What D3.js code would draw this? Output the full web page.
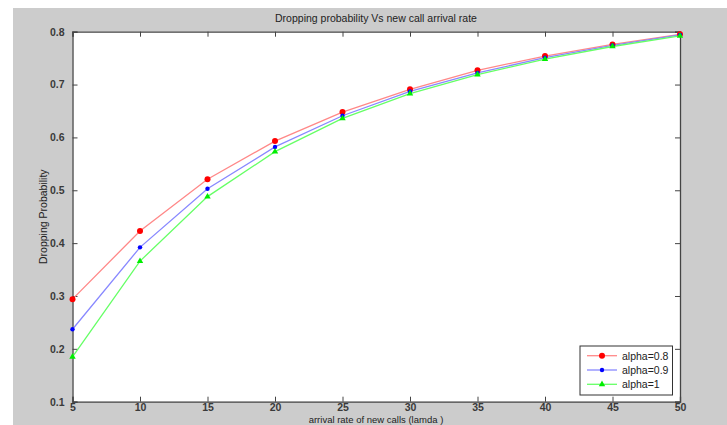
<!DOCTYPE html>
<html><head><meta charset="utf-8">
<script src="https://cdn.jsdelivr.net/npm/d3@7"></script>
<style>
html,body{margin:0;padding:0;background:#fff;}
svg{display:block;font-family:"Liberation Sans",Arial,sans-serif;}
</style></head>
<body><svg id="c" width="727" height="425"></svg>
<script>
const xValues = [5, 10, 15, 20, 25, 30, 35, 40, 45, 50];
const alpha08 = [0.294, 0.423, 0.521, 0.593, 0.648, 0.691, 0.727, 0.754, 0.776, 0.795];
const alpha09 = [0.237, 0.392, 0.503, 0.582, 0.641, 0.687, 0.722, 0.751, 0.774, 0.794];
const alpha10 = [0.185, 0.366, 0.488, 0.573, 0.636, 0.683, 0.719, 0.748, 0.772, 0.792];
const seriesNames = ["alpha=0.8", "alpha=0.9", "alpha=1"];
const xTicks = [5, 10, 15, 20, 25, 30, 35, 40, 45, 50];
const yTicks = [0.1, 0.2, 0.3, 0.4, 0.5, 0.6, 0.7, 0.8];

const svg = d3.select("#c");
svg.append("rect").attr("x",13).attr("y",8).attr("width",714).attr("height",417).attr("fill","#cccccc");

const L=72.5, R=680, T=31.7, B=401.7;
const x = d3.scaleLinear().domain([5,50]).range([L,R]);
const y = d3.scaleLinear().domain([0.1,0.8]).range([B,T]);

svg.append("rect").attr("x",L).attr("y",T).attr("width",R-L).attr("height",B-T).attr("fill","#fff");

const axCol="#444";
const fmtY = d3.format(".1f");
const gx = svg.append("g").attr("transform",`translate(0,${B})`)
  .call(d3.axisBottom(x).tickValues(xTicks).tickSize(-5).tickPadding(6).tickFormat(d3.format("d")));
const gxt = svg.append("g").attr("transform",`translate(0,${T})`)
  .call(d3.axisTop(x).tickValues(xTicks).tickSize(-5).tickFormat(""));
const gy = svg.append("g").attr("transform",`translate(${L},0)`)
  .call(d3.axisLeft(y).tickValues(yTicks).tickSize(-5).tickPadding(8).tickFormat(fmtY));
const gyr = svg.append("g").attr("transform",`translate(${R},0)`)
  .call(d3.axisRight(y).tickValues(yTicks).tickSize(-5).tickFormat(""));
[gx,gxt,gy,gyr].forEach(g=>{
  g.selectAll("path.domain").attr("stroke",axCol).attr("stroke-width",1.3);
  g.selectAll(".tick line").attr("stroke",axCol);
  g.selectAll("text").attr("fill","#3a3a3a").attr("font-size",10.5).attr("font-weight","bold")
   .attr("font-family","'Liberation Sans',Arial,sans-serif");
});
gx.selectAll("text").attr("dy","0.3em");

const series = [
  {name:seriesNames[0], vals:alpha08, line:"#ff8888", mark:"#ff0000", shape:"circle"},
  {name:seriesNames[1], vals:alpha09, line:"#8888ff", mark:"#0000ff", shape:"star"},
  {name:seriesNames[2], vals:alpha10, line:"#66ff66", mark:"#00ee00", shape:"triangle"}
];
const line = d3.line().x((d,i)=>x(xValues[i])).y(d=>y(d));
function marker(g, s, cx, cy){
  if(s.shape==="circle") g.append("circle").attr("cx",cx).attr("cy",cy).attr("r",3).attr("fill",s.mark);
  else if(s.shape==="star") g.append("circle").attr("cx",cx).attr("cy",cy).attr("r",2.2).attr("fill",s.mark);
  else g.append("path").attr("d",d3.symbol(d3.symbolTriangle,18)()).attr("transform",`translate(${cx},${cy})`).attr("fill",s.mark);
}
series.forEach(s=>{
  svg.append("path").datum(s.vals).attr("d",line).attr("fill","none").attr("stroke",s.line).attr("stroke-width",1.3);
});
series.forEach(s=>{
  const g=svg.append("g");
  s.vals.forEach((v,i)=>marker(g,s,x(xValues[i]),y(v)));
});

// legend
const lg = svg.append("g");
lg.append("rect").attr("x",580).attr("y",346).attr("width",92.5).attr("height",49).attr("fill","#fff").attr("stroke","#333").attr("stroke-width",1);
series.forEach((s,i)=>{
  const ly = 355.7 + i*14.3;
  lg.append("line").attr("x1",587).attr("x2",617).attr("y1",ly).attr("y2",ly).attr("stroke",s.line).attr("stroke-width",1.3);
  marker(lg,s,602,ly);
  lg.append("text").attr("x",622).attr("y",ly+4).attr("font-size",10.5).attr("fill","#222").text(s.name);
});

svg.append("text").attr("x",376).attr("y",22).attr("text-anchor","middle").attr("font-size",10.5).attr("fill","#222")
  .text("Dropping probability Vs new call arrival rate");
svg.append("text").attr("transform",`translate(47,${(T+B)/2}) rotate(-90)`).attr("text-anchor","middle").attr("font-size",10.5).attr("fill","#222")
  .text("Dropping Probability");
svg.append("text").attr("x",376).attr("y",423).attr("text-anchor","middle").attr("font-size",9.5).attr("fill","#222")
  .text("arrival rate of new calls (lamda )");
</script></body></html>
